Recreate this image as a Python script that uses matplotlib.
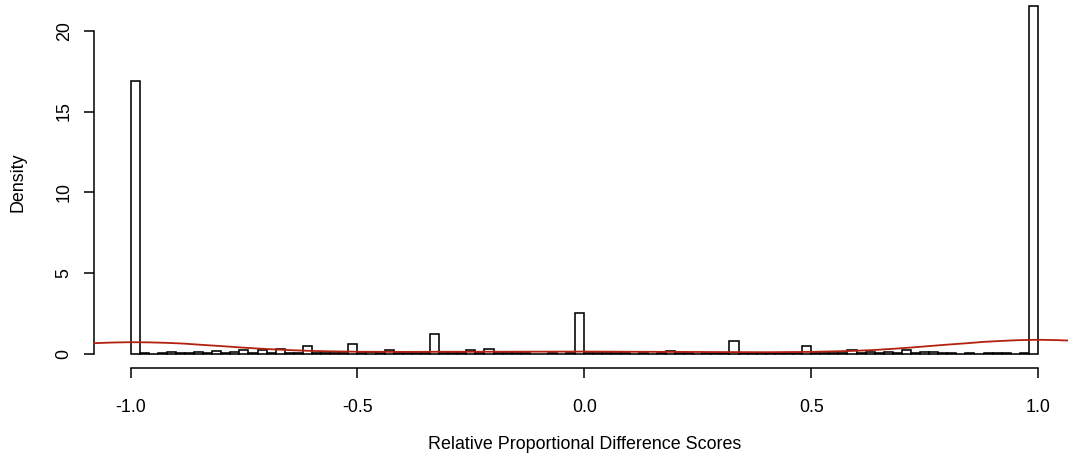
import numpy as np
import matplotlib
matplotlib.use("Agg")
import matplotlib.pyplot as plt

# ---- data ----
bin_edges_start = -1.0
bin_width = 0.02
n_bins = 100
densities = [
    16.9, 0.05, 0.0, 0.05, 0.1, 0.05, 0.05, 0.15, 0.05, 0.17,
    0.05, 0.1, 0.25, 0.05, 0.25, 0.05, 0.3, 0.05, 0.05, 0.5,
    0.05, 0.05, 0.05, 0.05, 0.62, 0.05, 0.1, 0.05, 0.22, 0.05,
    0.05, 0.05, 0.05, 1.25, 0.05, 0.05, 0.05, 0.22, 0.05, 0.33,
    0.05, 0.05, 0.05, 0.05, 0.0, 0.0, 0.05, 0.0, 0.05, 2.55,
    0.05, 0.05, 0.05, 0.05, 0.05, 0.0, 0.05, 0.0, 0.05, 0.2,
    0.05, 0.05, 0.0, 0.05, 0.05, 0.05, 0.78, 0.05, 0.05, 0.05,
    0.05, 0.05, 0.05, 0.05, 0.52, 0.05, 0.05, 0.05, 0.05, 0.22,
    0.05, 0.12, 0.05, 0.15, 0.05, 0.27, 0.05, 0.12, 0.12, 0.05,
    0.05, 0.0, 0.05, 0.0, 0.05, 0.08, 0.05, 0.0, 0.05, 21.5,
]

curve_x = [-1.08, -1.04, -1.0, -0.96, -0.92, -0.88, -0.84, -0.80, -0.76, -0.72,
           -0.68, -0.64, -0.60, -0.56, -0.50, -0.40, -0.30, -0.20, -0.10, 0.0,
           0.10, 0.20, 0.30, 0.40, 0.50, 0.56, 0.60, 0.64, 0.68, 0.72,
           0.76, 0.80, 0.84, 0.88, 0.92, 0.96, 1.0, 1.04, 1.08]
curve_y = [0.67, 0.71, 0.73, 0.72, 0.69, 0.64, 0.56, 0.49, 0.41, 0.34,
           0.28, 0.23, 0.19, 0.165, 0.14, 0.13, 0.14, 0.14, 0.145, 0.15,
           0.14, 0.13, 0.12, 0.11, 0.13, 0.17, 0.2, 0.25, 0.32, 0.40,
           0.49, 0.58, 0.66, 0.75, 0.81, 0.86, 0.88, 0.86, 0.82]

x_ticks = [-1.0, -0.5, 0.0, 0.5, 1.0]
x_tick_labels = ["-1.0", "-0.5", "0.0", "0.5", "1.0"]
y_ticks = [0, 5, 10, 15, 20]
y_tick_labels = ["0", "5", "10", "15", "20"]
x_label = "Relative Proportional Difference Scores"
y_label = "Density"

# ---- figure ----
W, H, DPI = 1068, 461, 100
FS = 12.9
plt.rcParams['font.family'] = ['Liberation Sans', 'DejaVu Sans']
fig = plt.figure(figsize=(W / DPI, H / DPI), dpi=DPI)

left_px, right_px, top_px, bottom_px = 94.2, 1074.3, -7.6, 368.0
ax = fig.add_axes([left_px / W, (H - bottom_px) / H,
                   (right_px - left_px) / W, (bottom_px - top_px) / H])
ax.set_xlim(-1.08, 1.08)
ax.set_ylim(-0.866, 22.37)
ax.patch.set_alpha(0)

lefts = [bin_edges_start + i * bin_width for i in range(n_bins)]
ax.bar(lefts, densities, width=bin_width, align='edge', facecolor='white',
       edgecolor='black', linewidth=1.15, zorder=2)
ax.plot(curve_x, curve_y, color='#B3200F', linewidth=1.3, zorder=3,
        clip_on=False)

for s in ['top', 'right']:
    ax.spines[s].set_visible(False)
ax.spines['left'].set_bounds(0, 20)
ax.spines['bottom'].set_bounds(-1, 1)
ax.spines['left'].set_linewidth(1.1)
ax.spines['bottom'].set_linewidth(1.1)

ax.set_xticks(x_ticks)
ax.set_xticklabels(x_tick_labels)
ax.set_yticks(y_ticks)
ax.set_yticklabels(y_tick_labels, rotation=90, va='center')
ax.tick_params(axis='both', direction='out', length=7.5, width=1.1,
               labelsize=FS, colors='black')
ax.tick_params(axis='x', pad=14.5)
ax.tick_params(axis='y', pad=8)

fig.text(584.5 / W, 1 - 444.5 / H, x_label, ha='center', va='center', fontsize=FS)
fig.text(18 / W, 1 - 182 / H, y_label, ha='center', va='center',
         rotation=90, fontsize=FS)

fig.savefig('out.png', dpi=DPI)
